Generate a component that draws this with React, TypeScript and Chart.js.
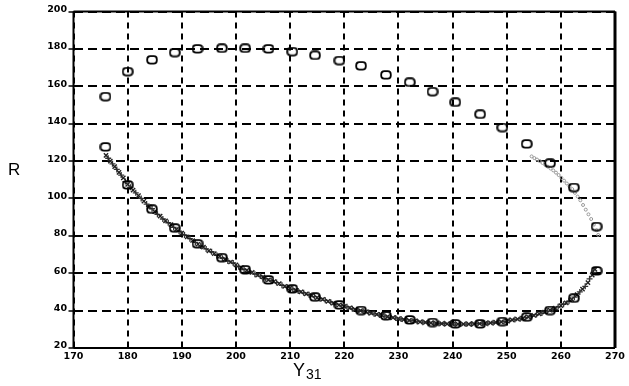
import React, { useEffect, useRef } from "react";
import { Chart, registerables } from "chart.js";

Chart.register(...registerables);

const xTicks = [170, 180, 190, 200, 210, 220, 230, 240, 250, 260, 270];
const yTicks = [20, 40, 60, 80, 100, 120, 140, 160, 180, 200];

const upperX = [175.9, 180.0, 184.5, 188.7, 192.9, 197.4, 201.7, 206.0, 210.4, 214.6, 219.1, 223.1, 227.7, 232.1, 236.3, 240.5, 245.1, 249.2, 253.7, 258.0, 262.4, 266.6];
const upperY = [154.4, 167.8, 174.1, 178.0, 180.0, 180.3, 180.3, 180.0, 178.5, 176.5, 173.7, 170.9, 166.0, 162.1, 157.1, 151.4, 145.0, 137.9, 129.1, 118.8, 105.8, 84.9];

const lowerX = [175.9, 180.0, 184.5, 188.7, 192.9, 197.4, 201.7, 206.0, 210.4, 214.6, 219.1, 223.1, 227.7, 232.1, 236.3, 240.5, 245.1, 249.2, 253.7, 258.0, 262.4, 266.6];
const lowerY = [127.5, 107.2, 94.2, 84.1, 75.7, 68.3, 61.8, 56.4, 51.6, 47.2, 43.0, 40.0, 37.2, 35.0, 33.6, 32.9, 32.9, 34.1, 36.5, 40.0, 46.6, 61.2];

const crossX = [176, 176.8, 177.6, 178.4, 179.2, 180, 181, 182, 183, 184, 185, 186, 187, 188, 189, 190, 191, 192, 193, 194, 195, 196, 197, 198, 199, 200, 201, 202, 203, 204, 205, 206, 207, 208, 209, 210, 211, 212, 213, 214, 215, 216, 217, 218, 219, 220, 221, 222, 223, 224, 225, 226, 227, 228, 229, 230, 231, 232, 233, 234, 235, 236, 237, 238, 239, 240, 241, 242, 243, 244, 245, 246, 247, 248, 249, 250, 251, 252, 253, 254, 255, 256, 257, 258, 259, 260, 261, 262, 263, 264, 265, 265.8, 266.3];
const crossY = [123, 120, 117, 114, 111, 107.5, 104.5, 101.5, 98.5, 95.5, 93, 90.5, 88, 86, 83.5, 81.5, 79.5, 77.5, 75.5, 74, 72, 70.5, 69, 67.5, 66, 64.5, 63, 61.5, 60.5, 59, 58, 56.5, 55.5, 54.5, 53, 52, 51, 50, 49, 48, 47, 46, 45, 44, 43, 42.3, 41.5, 40.7, 40, 39.3, 38.6, 38, 37.4, 36.8, 36.2, 35.7, 35.2, 34.8, 34.4, 34, 33.7, 33.4, 33.2, 33, 32.9, 32.8, 32.8, 32.8, 32.8, 32.9, 33, 33.2, 33.4, 33.7, 34, 34.5, 35, 35.5, 36, 36.7, 37.5, 38.3, 39.2, 40.2, 41.3, 42.7, 44.2, 46, 48.5, 51.5, 55, 59, 62];

const plusX = [176.4, 177.2, 178, 178.8, 179.6, 180.5, 181.5, 182.5, 183.5, 184.5, 185.5, 186.5, 187.5, 188.5, 189.5, 190.5, 191.5, 192.5, 193.5, 194.5, 195.5, 196.5, 197.5, 198.5, 199.5, 200.5, 201.5, 202.5, 203.5, 204.5, 205.5, 206.5, 207.5, 208.5, 209.5, 210.5, 211.5, 212.5, 213.5, 214.5, 215.5, 216.5, 217.5, 218.5, 219.5, 220.5, 221.5, 222.5, 223.5, 224.5, 225.5, 226.5, 227.5, 228.5, 229.5, 230.5, 231.5, 232.5, 233.5, 234.5, 235.5, 236.5, 237.5, 238.5, 239.5, 240.5, 241.5, 242.5, 243.5, 244.5, 245.5, 246.5, 247.5, 248.5, 249.5, 250.5, 251.5, 252.5, 253.5, 254.5, 255.5, 256.5, 257.5, 258.5, 259.5, 260.5, 261.5, 262.5, 263.5, 264.5, 265.3, 266];
const plusY = [121.5, 118.5, 115.5, 112.5, 109, 106, 103, 100, 97, 94.5, 91.5, 89, 87, 84.5, 82.5, 80.5, 78.5, 76.5, 74.5, 73, 71.5, 69.5, 68, 66.5, 65.5, 63.5, 62, 61, 59.5, 58.5, 57, 56, 55, 53.5, 52.5, 51.5, 50.5, 49.5, 48.5, 47.5, 46.5, 45.5, 44.5, 43.5, 42.7, 42, 41, 40.3, 39.6, 39, 38.3, 37.7, 37, 36.5, 36, 35.5, 35, 34.6, 34.2, 33.8, 33.5, 33.3, 33.1, 33, 32.8, 32.8, 32.8, 32.8, 32.9, 33, 33.1, 33.3, 33.5, 33.8, 34.2, 34.7, 35.2, 35.7, 36.3, 37, 37.9, 38.7, 39.7, 40.7, 42, 43.4, 45, 47.2, 50, 53, 57, 60.5];

const dotX = [254.6, 255.1, 255.6, 256.1, 256.6, 257.1, 257.6, 258.1, 258.6, 259.1, 259.6, 260.1, 260.6, 261.1, 261.6, 262.1, 262.6, 263.1, 263.6, 264.1, 264.6, 265.1, 265.6, 266.1, 266.6, 266.9];
const dotY = [122.5, 121.6, 120.8, 120, 119, 118, 117, 116, 115, 113.8, 112.5, 111, 109.5, 108, 106.5, 105, 103, 101, 99, 96.5, 94, 91.5, 89, 86, 83, 80.5];

const xTitle = "Y";
const xTitleSub = "31";
const yTitle = "R";

const pts = (xs: number[], ys: number[]) => xs.map((x, i) => ({ x, y: ys[i] }));

export default function App() {
  const ref = useRef<HTMLCanvasElement>(null);

  useEffect(() => {
    const marker = document.createElement("canvas");
    marker.width = 12;
    marker.height = 10;
    const mc = marker.getContext("2d")!;
    mc.lineWidth = 1.8;
    mc.strokeStyle = "#000";
    mc.beginPath();
    (mc as any).roundRect(1.2, 1.2, 9.6, 7.4, 3.2);
    mc.stroke();

    const framePlugin = {
      id: "frame",
      afterDraw(chart: any) {
        const { ctx, chartArea: a } = chart;
        ctx.save();
        ctx.strokeStyle = "#000";
        ctx.setLineDash([]);
        const line = (x1: number, y1: number, x2: number, y2: number, w: number) => {
          ctx.lineWidth = w;
          ctx.beginPath();
          ctx.moveTo(x1, y1);
          ctx.lineTo(x2, y2);
          ctx.stroke();
        };
        line(a.left, a.top, a.right, a.top, 2);
        line(a.left, a.bottom, a.right, a.bottom, 2);
        line(a.left, a.top, a.left, a.bottom, 2);
        line(a.right, a.top, a.right, a.bottom, 3);
        ctx.fillStyle = "#000";
        ctx.textBaseline = "alphabetic";
        ctx.textAlign = "left";
        ctx.font = "17px 'Liberation Sans', Arial, sans-serif";
        ctx.fillText(yTitle, 8, 175);
        ctx.font = "18px 'Liberation Sans', Arial, sans-serif";
        ctx.fillText(xTitle, 293, 376);
        ctx.font = "14px 'Liberation Sans', Arial, sans-serif";
        ctx.fillText(xTitleSub, 306, 379);
        ctx.restore();
      },
    };

    const tickFont = { family: "'DejaVu Sans', sans-serif", size: 9.5, weight: "bold" as const };

    const chart = new Chart(ref.current!, {
      type: "scatter",
      data: {
        datasets: [
          {
            data: pts(upperX, upperY),
            pointStyle: marker as any,
            pointRadius: 5,
            showLine: false,
          },
          {
            data: pts(lowerX, lowerY),
            pointStyle: marker as any,
            pointRadius: 5,
            showLine: false,
          },
          {
            data: pts(crossX, crossY),
            pointStyle: "crossRot",
            pointRadius: 3,
            borderColor: "#222",
            borderWidth: 1.4,
            backgroundColor: "transparent",
            showLine: false,
          },
          {
            data: pts(plusX, plusY),
            pointStyle: "cross",
            pointRadius: 3,
            borderColor: "#333",
            borderWidth: 1.3,
            backgroundColor: "transparent",
            showLine: false,
          },
          {
            data: pts(dotX, dotY),
            pointStyle: "circle",
            pointRadius: 1.5,
            borderColor: "#999",
            borderWidth: 1,
            backgroundColor: "transparent",
            showLine: false,
          },
        ],
      },
      options: {
        animation: false,
        responsive: false,
        devicePixelRatio: 1,
        layout: { padding: { left: 0, right: 14, top: 11.5, bottom: 0 } },
        plugins: { legend: { display: false }, tooltip: { enabled: false } },
        scales: {
          x: {
            type: "linear",
            min: 170,
            max: 270,
            afterBuildTicks: (s: any) => {
              s.ticks = xTicks.map((v) => ({ value: v }));
            },
            afterFit: (s: any) => {
              s.height = 38;
            },
            grid: { color: "#000", lineWidth: 2, drawTicks: false },
            border: { display: false, dash: [6, 5] },
            ticks: {
              color: "#000",
              font: tickFont,
              padding: 3,
              autoSkip: false,
              maxRotation: 0,
              minRotation: 0,
              callback: (v: any) => String(v),
            },
          },
          y: {
            type: "linear",
            min: 20,
            max: 200,
            afterBuildTicks: (s: any) => {
              s.ticks = yTicks.map((v) => ({ value: v }));
            },
            afterFit: (s: any) => {
              s.width = 73.5;
            },
            grid: { color: "#000", lineWidth: 2, drawTicks: true, tickLength: 5, tickColor: "#000", tickWidth: 1.5 },
            border: { display: false, dash: [9, 5] },
            ticks: {
              color: "#000",
              font: tickFont,
              padding: 1.5,
              labelOffset: -2,
              autoSkip: false,
              callback: (v: any) => String(v),
            },
          },
        },
      },
      plugins: [framePlugin],
    });
    return () => chart.destroy();
  }, []);

  return (
    <div style={{ position: "fixed", left: 0, top: 0, width: 629, height: 386, background: "#fff" }}>
      <canvas ref={ref} width={629} height={386} style={{ display: "block" }} />
    </div>
  );
}
